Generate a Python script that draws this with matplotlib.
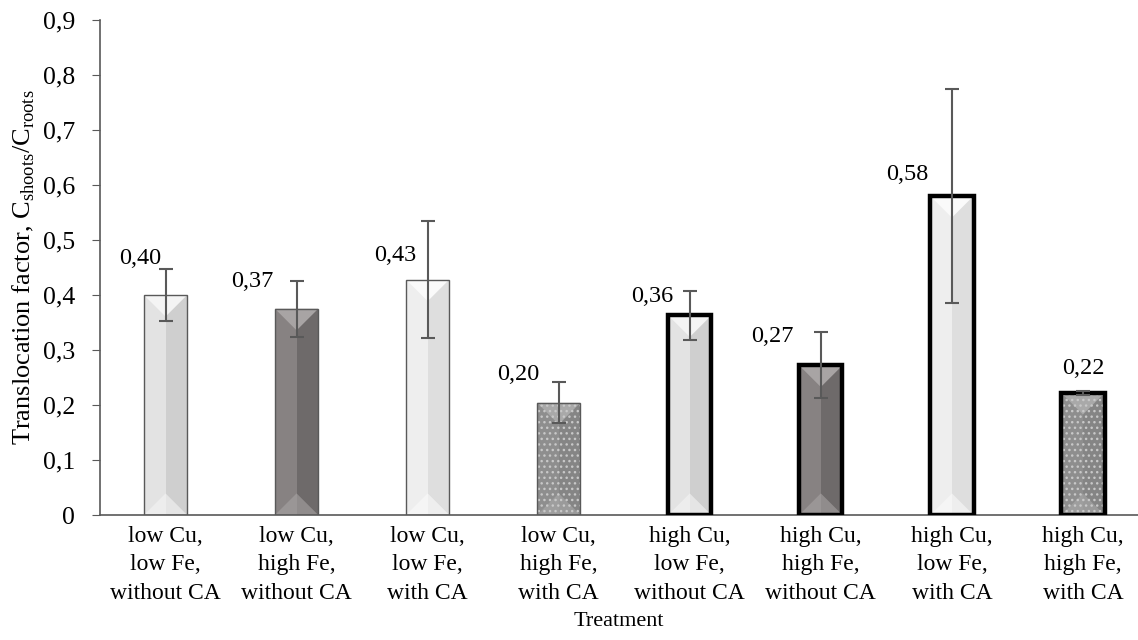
import numpy as np
import matplotlib.pyplot as plt
from matplotlib.patches import Polygon
from matplotlib.ticker import FuncFormatter

plt.rcParams['font.family'] = ['Liberation Serif', 'DejaVu Serif']
plt.rcParams['mathtext.fontset'] = 'custom'
plt.rcParams['mathtext.rm'] = 'Liberation Serif'
plt.rcParams['hatch.color'] = '#c8c8c8'

# ---------------------------------------------------------------------------
# data
# ---------------------------------------------------------------------------
treatments = ['low Cu,\nlow Fe,\nwithout CA', 'low Cu,\nhigh Fe,\nwithout CA',
              'low Cu,\nlow Fe,\nwith CA', 'low Cu,\nhigh Fe,\nwith CA',
              'high Cu,\nlow Fe,\nwithout CA', 'high Cu,\nhigh Fe,\nwithout CA',
              'high Cu,\nlow Fe,\nwith CA', 'high Cu,\nhigh Fe,\nwith CA']
tf_mean = [0.40, 0.375, 0.428, 0.204, 0.363, 0.272, 0.58, 0.222]
tf_err = [0.047, 0.051, 0.107, 0.037, 0.045, 0.06, 0.195, 0.003]
value_labels = ['0,40', '0,37', '0,43', '0,20', '0,36', '0,27', '0,58', '0,22']

# label placement (offset from bar centre, y of label centre)
lab_dx = [-0.19, -0.34, -0.25, -0.31, -0.29, -0.37, -0.34, 0.0]
lab_y = [0.467, 0.424, 0.471, 0.255, 0.398, 0.324, 0.62, 0.267]

# fill styles: (left face, right face, top/bottom bevel, hatch)
styles = [('#e3e3e3', '#cfcfcf', '#f4f4f4', None),
          ('#878282', '#6e6a6a', '#a8a4a4', None),
          ('#eeeeee', '#dedede', '#fafafa', None),
          ('#8e8e8e', '#858585', '#a9a9a9', '...')]

# ---------------------------------------------------------------------------
# plot
# ---------------------------------------------------------------------------
fig = plt.figure(figsize=(11.38, 6.4), dpi=100)
ax = fig.add_axes([100 / 1138, 125 / 640, 1 - 100 / 1138, 495 / 640])

x = np.arange(len(treatments))
w = 0.33
tri_h = w / 2 * 131 / 550  # bevel triangle height in data units

for i, (xi, v) in enumerate(zip(x, tf_mean)):
    left, right, bev, hatch = styles[i % 4]
    ax.bar(xi - w / 4, v, w / 2, color=left, linewidth=0, zorder=2)
    ax.bar(xi + w / 4, v, w / 2, color=right, linewidth=0, zorder=2)
    ax.add_patch(Polygon([[xi - w / 2, v], [xi + w / 2, v], [xi, v - tri_h]],
                         closed=True, color=bev, linewidth=0, zorder=2))
    ax.add_patch(Polygon([[xi - w / 2, 0], [xi + w / 2, 0], [xi, tri_h]],
                         closed=True, color=bev, linewidth=0, alpha=0.6, zorder=2))
    if hatch:
        ax.bar(xi, v, w, color='none', hatch=hatch, linewidth=0, zorder=3)
    if i < 4:
        ax.bar(xi, v, w, color='none', edgecolor='#595959', linewidth=1, zorder=4)
    else:
        ax.bar(xi, v, w, color='none', edgecolor='black', linewidth=3.2, zorder=4)

ax.errorbar(x, tf_mean, yerr=tf_err, fmt='none', ecolor='#595959',
            elinewidth=1.5, capsize=5, capthick=1.5, zorder=5)

for xi, dx, ly, txt in zip(x, lab_dx, lab_y, value_labels):
    ax.text(xi + dx, ly, txt, ha='center', va='center', fontsize=17.5)

ax.set_xlim(-0.5, 7.42)
ax.set_ylim(0, 0.9)
ax.set_yticks(np.arange(0, 0.91, 0.1))
ax.yaxis.set_major_formatter(FuncFormatter(
    lambda v, p: '0' if abs(v) < 1e-9 else f'{v:.1f}'.replace('.', ',')))
ax.set_xticks(x)
ax.set_xticklabels(treatments, fontsize=17, linespacing=1.46)
ax.tick_params(axis='x', length=0, pad=8)
ax.tick_params(axis='y', labelsize=18.5, length=6, color='#595959',
               direction='out', pad=12)

for s in ['top', 'right']:
    ax.spines[s].set_visible(False)
for s in ['left', 'bottom']:
    ax.spines[s].set_color('#595959')
    ax.spines[s].set_linewidth(1.2)

ax.set_ylabel(r'Translocation factor, C$_\mathregular{shoots}$/C$_\mathregular{roots}$',
              fontsize=19, labelpad=4)
ax.set_xlabel('Treatment', fontsize=16, labelpad=6)

fig.savefig('out.png', dpi=100)
